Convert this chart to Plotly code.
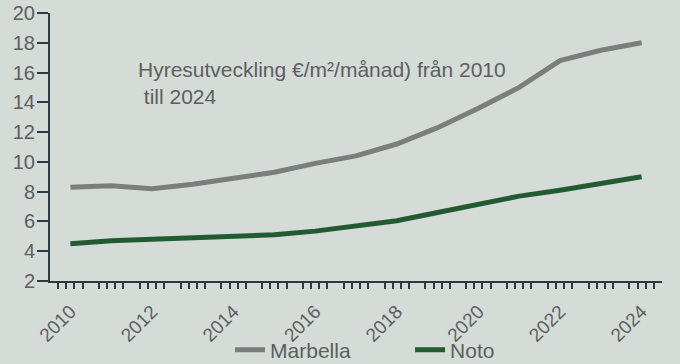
import plotly.graph_objects as go

years = list(range(2010, 2025))
marbella = [8.3, 8.4, 8.2, 8.5, 8.9, 9.3, 9.9, 10.4, 11.2, 12.3, 13.6, 15.0, 16.8, 17.5, 18.0]
noto = [4.5, 4.7, 4.8, 4.9, 5.0, 5.1, 5.35, 5.7, 6.05, 6.6, 7.15, 7.7, 8.1, 8.55, 9.0]
x_labels = [2010, 2012, 2014, 2016, 2018, 2020, 2022, 2024]
y_ticks = list(range(2, 21, 2))

BG = "#d5dbd7"
AXIS = "#2c3b43"
TEXT = "#5b5f5e"
FONT = "Liberation Sans, Arial, sans-serif"

minor_vals = [y + d for y in years for d in (-0.3, -0.1, 0.1, 0.3)]

fig = go.Figure()
fig.add_trace(go.Scatter(x=years, y=marbella, mode="lines", name="Marbella",
                         line=dict(color="#7b7f7a", width=5)))
fig.add_trace(go.Scatter(x=years, y=noto, mode="lines", name="Noto",
                         line=dict(color="#225b32", width=5)))

fig.update_layout(
    width=680, height=364,
    margin=dict(l=50, r=18, t=13, b=83, autoexpand=False),
    paper_bgcolor=BG, plot_bgcolor=BG,
    font=dict(family=FONT, color=TEXT, size=19),
    showlegend=True,
    legend=dict(orientation="h", xref="container", yref="container",
                x=0.603, xanchor="center", y=0.038, yanchor="middle",
                font=dict(size=21, color=TEXT), bgcolor="rgba(0,0,0,0)",
                entrywidth=135, itemwidth=30),
    xaxis=dict(range=[2009.5, 2024.5], tickmode="array", tickvals=x_labels,
               ticktext=[str(v) for v in x_labels], tickangle=-45,
               ticks="", ticklabelstandoff=10, showgrid=False, zeroline=False,
               showline=True, linecolor=AXIS, linewidth=2, automargin=False,
               tickfont=dict(size=19, color=TEXT),
               minor=dict(tickmode="array", tickvals=minor_vals, ticks="outside",
                          ticklen=6, tickwidth=2, tickcolor=AXIS, showgrid=False)),
    yaxis=dict(range=[2, 20], tickmode="array", tickvals=y_ticks,
               ticks="outside", ticklen=11, tickwidth=2, tickcolor=AXIS,
               ticklabelstandoff=-2,
               showgrid=False, zeroline=False, showline=True, linecolor=AXIS,
               linewidth=2, automargin=False, tickfont=dict(size=20, color=TEXT)),
    annotations=[dict(xref="paper", yref="paper", x=0.14, y=0.74,
                      xanchor="left", yanchor="middle", align="left", showarrow=False,
                      text="Hyresutveckling €/m²/månad) från 2010<br> till 2024",
                      font=dict(size=21, color=TEXT, family=FONT))],
)

fig.write_html("out.html", config={"displayModeBar": False},
               post_script="document.body.style.margin='0';document.body.style.overflow='hidden';document.body.style.background='" + BG + "';")
